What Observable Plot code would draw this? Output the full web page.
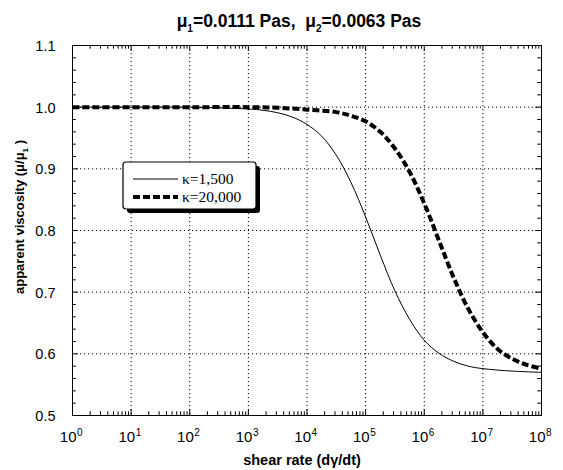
<!DOCTYPE html>
<html><head><meta charset="utf-8">
<script src="https://cdn.jsdelivr.net/npm/d3@7"></script>
<script src="https://cdn.jsdelivr.net/npm/@observablehq/plot@0.6"></script>
<style>body{margin:0;background:#fff} svg{display:block} text{white-space:pre}</style>
</head><body><div id="chart"></div>
<script>
// κ = 1,500 (solid)
const shearRate1500 = [1, 10, 100, 1000, 1778, 3162, 5623, 10000, 17783, 31623, 56234, 100000, 177828, 316228, 562341, 1000000, 1778279, 3162278, 5623413, 10000000, 31622777, 100000000];
const visc1500      = [1.000, 1.000, 1.000, 0.997, 0.995, 0.991, 0.984, 0.972, 0.953, 0.922, 0.878, 0.822, 0.760, 0.702, 0.656, 0.622, 0.601, 0.588, 0.580, 0.576, 0.572, 0.570];
// κ = 20,000 (dashed)
const shearRate20000 = [1, 10, 100, 1000, 3162, 10000, 31623, 56234, 100000, 177828, 316228, 562341, 1000000, 1778279, 3162278, 5623413, 10000000, 17782794, 31622777, 56234133, 100000000];
const visc20000      = [1.000, 1.000, 1.000, 1.000, 0.999, 0.996, 0.992, 0.986, 0.977, 0.960, 0.933, 0.895, 0.844, 0.784, 0.724, 0.673, 0.635, 0.608, 0.592, 0.582, 0.576];

const xTicks = [1, 10, 100, 1000, 10000, 100000, 1000000, 10000000, 100000000];
const xTickExponents = ["0", "1", "2", "3", "4", "5", "6", "7", "8"];
const yTicks = [0.5, 0.6, 0.7, 0.8, 0.9, 1.0, 1.1];
const yTickLabels = ["0.5", "0.6", "0.7", "0.8", "0.9", "1.0", "1.1"];
const legendLabels = ["κ=1,500", "κ=20,000"];

const xMinor = [];
for (let d = 0; d < 8; d++) for (let k = 2; k <= 9; k++) xMinor.push(k * 10 ** d);
const yMinor = d3.range(0.52, 1.1, 0.02).filter(v => Math.abs(v * 10 - Math.round(v * 10)) > 1e-6);

const s1 = shearRate1500.map((x, i) => ({x, y: visc1500[i]}));
const s2 = shearRate20000.map((x, i) => ({x, y: visc20000[i]}));

const Y0 = 0.5, Y1 = 1.1, X0 = 1, X1 = 1e8;
const yMaj = 0.0095, yMin = 0.006;
const xMaj = 10 ** 0.1, xMin = 10 ** 0.065;

const font = "Liberation Sans, Arial, Helvetica, sans-serif";

const plot = Plot.plot({
  width: 563,
  height: 470,
  marginLeft: 72,
  marginRight: 22,
  marginTop: 45,
  marginBottom: 55,
  style: {fontFamily: font, background: "white", color: "black"},
  x: {type: "log", domain: [X0, X1], axis: null},
  y: {domain: [Y0, Y1], axis: null},
  marks: [
    Plot.ruleX(xTicks.slice(1, -1), {x: d => d, stroke: "black", strokeWidth: 1, strokeDasharray: "1.2,2.8"}),
    Plot.ruleY(yTicks.slice(1, -1), {y: d => d, stroke: "black", strokeWidth: 1, strokeDasharray: "1.2,2.8"}),
    Plot.ruleX(xTicks, {x: d => d, y1: () => Y0, y2: () => Y0 + yMaj, stroke: "black"}),
    Plot.ruleX(xTicks, {x: d => d, y1: () => Y1, y2: () => Y1 - yMaj, stroke: "black"}),
    Plot.ruleX(xMinor, {x: d => d, y1: () => Y0, y2: () => Y0 + yMin, stroke: "black"}),
    Plot.ruleX(xMinor, {x: d => d, y1: () => Y1, y2: () => Y1 - yMin, stroke: "black"}),
    Plot.ruleY(yTicks, {y: d => d, x1: () => X0, x2: () => X0 * xMaj, stroke: "black"}),
    Plot.ruleY(yTicks, {y: d => d, x1: () => X1, x2: () => X1 / xMaj, stroke: "black"}),
    Plot.ruleY(yMinor, {y: d => d, x1: () => X0, x2: () => X0 * xMin, stroke: "black"}),
    Plot.ruleY(yMinor, {y: d => d, x1: () => X1, x2: () => X1 / xMin, stroke: "black"}),
    Plot.frame({stroke: "black", strokeWidth: 1}),
    Plot.line(s1, {x: "x", y: "y", curve: "catmull-rom", stroke: "black", strokeWidth: 1}),
    Plot.line(s2, {x: "x", y: "y", curve: "catmull-rom", stroke: "black", strokeWidth: 4, strokeDasharray: "7,3", strokeLinecap: "butt"}),
    Plot.text(yTicks, {x: () => X0, y: d => d, text: (d, i) => yTickLabels[i], textAnchor: "end", dx: -17, dy: 1, fontSize: 14.5, fill: "black"}),
    Plot.text(xTicks, {x: d => d, y: () => Y0, text: () => "10", textAnchor: "end", dx: 4, dy: 22, fontSize: 15, fill: "black"}),
    Plot.text(xTicks, {x: d => d, y: () => Y0, text: (d, i) => xTickExponents[i], textAnchor: "start", dx: 4.5, dy: 17, fontSize: 10, fill: "black"})
  ]
});

const svg = d3.select(plot);

// Title
const t = svg.append("text").attr("x", 299).attr("y", 27).attr("text-anchor", "middle")
  .attr("font-family", font).attr("font-weight", "bold").attr("font-size", 17.5).attr("fill", "black");
t.append("tspan").text("μ");
t.append("tspan").attr("dy", 5).attr("font-size", 10).text("1");
t.append("tspan").attr("dy", -5).text("=0.0111 Pas,  μ");
t.append("tspan").attr("dy", 5).attr("font-size", 10).text("2");
t.append("tspan").attr("dy", -5).text("=0.0063 Pas");

// Y axis label
const yl = svg.append("text").attr("transform", "translate(24,217) rotate(-90)").attr("text-anchor", "middle")
  .attr("font-family", font).attr("font-weight", "bold").attr("font-size", 13).attr("fill", "black");
yl.append("tspan").text("apparent viscosity (μ/μ");
yl.append("tspan").attr("dy", 4).attr("font-size", 8).text("1");
yl.append("tspan").attr("dy", -4).text(" )");

// X axis label
svg.append("text").attr("x", 302).attr("y", 465).attr("text-anchor", "middle")
  .attr("font-family", font).attr("font-weight", "bold").attr("font-size", 14.5).attr("fill", "black")
  .text("shear rate (dγ/dt)");

// Legend box
const lg = svg.append("g");
lg.append("rect").attr("x", 127).attr("y", 166).attr("width", 133).attr("height", 47).attr("rx", 3)
  .attr("fill", "black");
lg.append("rect").attr("x", 123).attr("y", 162).attr("width", 133).attr("height", 47).attr("rx", 3)
  .attr("fill", "white").attr("stroke", "black").attr("stroke-width", 1.2);
lg.append("line").attr("x1", 133).attr("x2", 178).attr("y1", 179).attr("y2", 179).attr("stroke", "black").attr("stroke-width", 1);
lg.append("line").attr("x1", 133).attr("x2", 178).attr("y1", 197).attr("y2", 197).attr("stroke", "black").attr("stroke-width", 4).attr("stroke-dasharray", "7,3");
lg.selectAll("text.lab").data(legendLabels).join("text").attr("class", "lab")
  .attr("x", 182).attr("y", (d, i) => 184 + i * 18).attr("text-anchor", "start")
  .attr("font-family", "Liberation Serif, Times New Roman, serif").attr("font-size", 15.5).attr("fill", "black")
  .text(d => d);

document.getElementById("chart").appendChild(plot);
</script>
</body></html>
